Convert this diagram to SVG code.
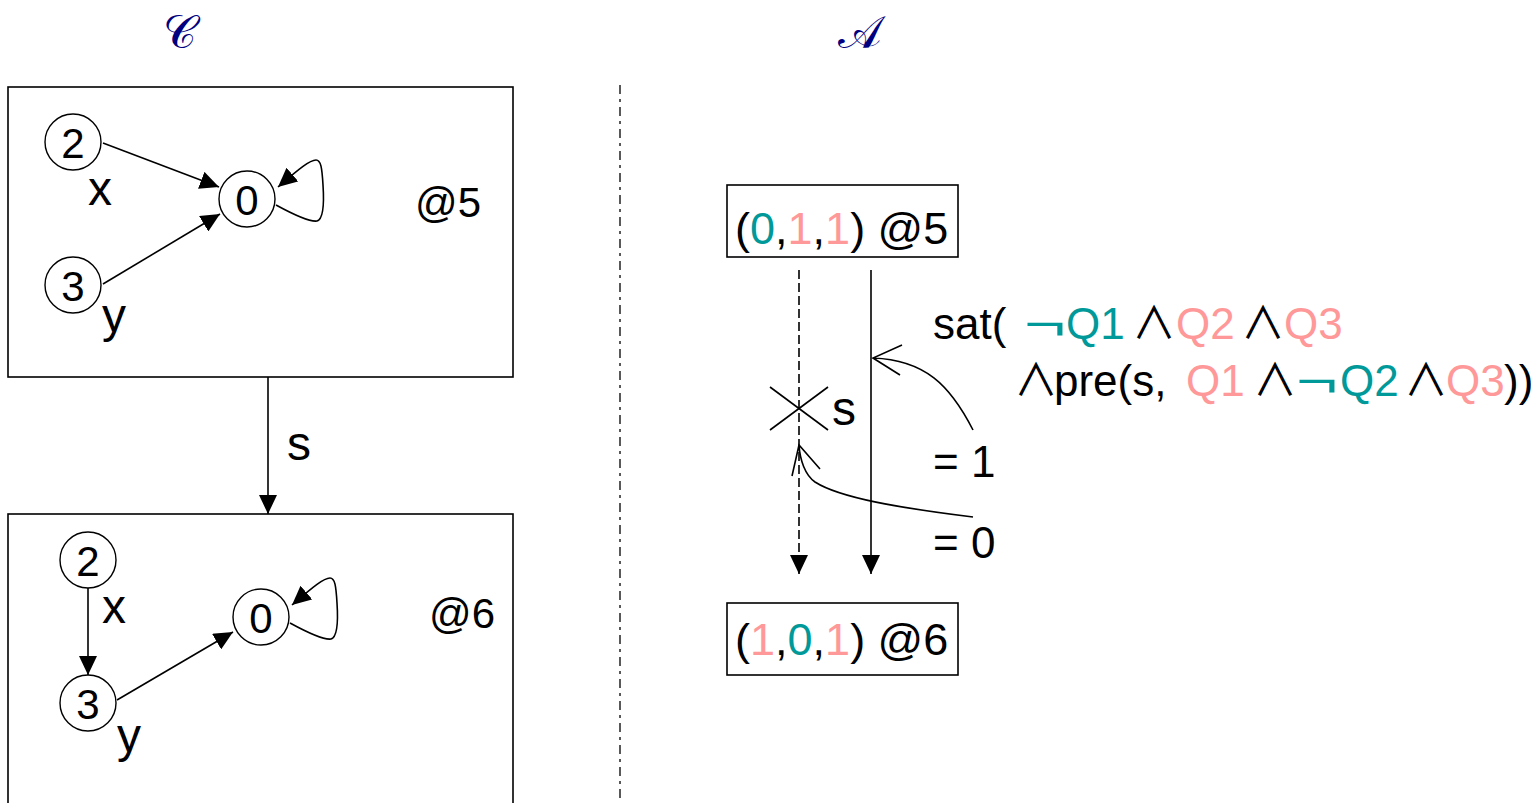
<svg xmlns="http://www.w3.org/2000/svg" width="1538" height="803" viewBox="0 0 1538 803">
<defs>
<style>
.t{font-family:"Liberation Sans",Arial,sans-serif;font-size:42px;fill:#000}
.lb{font-family:"Liberation Sans",Arial,sans-serif;font-size:48px;fill:#000}
.r{font-family:"Liberation Sans",Arial,sans-serif;font-size:45px;fill:#000}
.f{font-family:"Liberation Sans","DejaVu Sans",sans-serif;font-size:44px;fill:#000}
.and{font-family:"Noto Sans CJK SC","DejaVu Sans",sans-serif;font-size:44px}
.title{font-family:"DejaVu Serif","Liberation Serif",serif;font-size:46px;fill:#000080;text-anchor:middle}
.box{fill:#fff;stroke:#000;stroke-width:1.6}
.node{fill:#fff;stroke:#000;stroke-width:1.4}
.ln{fill:none;stroke:#000;stroke-width:1.6}
.teal{fill:#009999}
.pink{fill:#ff9999}
</style>
<marker id="ah" markerUnits="userSpaceOnUse" markerWidth="20" markerHeight="18" refX="19" refY="9" orient="auto">
<path d="M0,0 L19,9 L0,18 z" fill="#000"/>
</marker>
</defs>
<rect width="1538" height="803" fill="#fff"/>
<g id="titles">
<text class="title" x="180" y="48">𝒞</text>
<text class="title" x="860" y="48">𝒜</text>
</g>
<line x1="620" y1="85" x2="620" y2="803" stroke="#000" stroke-width="1.3" stroke-dasharray="9,5,3,5"/>
<g id="box-top">
<rect class="box" x="8" y="87" width="505" height="290"/>
<text class="t" x="448" y="217" text-anchor="middle">@5</text>
</g>
<g id="box-bottom">
<rect class="box" x="8" y="514" width="505" height="320"/>
<text class="t" x="462" y="628" text-anchor="middle">@6</text>
</g>
<g id="top-n2"><circle class="node" cx="73" cy="142" r="28"/><text class="t" x="73" y="158" text-anchor="middle">2</text></g>
<g id="top-n3"><circle class="node" cx="73" cy="285" r="28"/><text class="t" x="73" y="301" text-anchor="middle">3</text></g>
<g id="top-n0"><circle class="node" cx="247" cy="199" r="28"/><text class="t" x="247" y="215" text-anchor="middle">0</text></g>
<g id="bot-n2"><circle class="node" cx="88" cy="560" r="28"/><text class="t" x="88" y="576" text-anchor="middle">2</text></g>
<g id="bot-n3"><circle class="node" cx="88" cy="703" r="28"/><text class="t" x="88" y="719" text-anchor="middle">3</text></g>
<g id="bot-n0"><circle class="node" cx="261" cy="617" r="28"/><text class="t" x="261" y="633" text-anchor="middle">0</text></g>
<g id="state-top">
<rect class="box" x="727" y="185" width="231" height="72"/>
<text class="r" x="735" y="244">(<tspan class="teal">0</tspan>,<tspan class="pink">1</tspan>,<tspan class="pink">1</tspan>) @5</text>
</g>
<g id="state-bottom">
<rect class="box" x="727" y="603" width="231" height="72"/>
<text class="r" x="735" y="655">(<tspan class="pink">1</tspan>,<tspan class="teal">0</tspan>,<tspan class="pink">1</tspan>) @6</text>
</g>
<g id="formula">
<text class="f" y="339"><tspan x="933">sat(</tspan><tspan x="1066" class="teal">Q1</tspan><tspan x="1132" class="and">∧</tspan><tspan x="1176" class="pink">Q2</tspan><tspan x="1241" class="and">∧</tspan><tspan x="1284" class="pink">Q3</tspan></text>
<text class="f teal" x="1024" y="339" textLength="42" lengthAdjust="spacingAndGlyphs">¬</text>
<text class="f" y="396"><tspan x="1014" class="and">∧</tspan><tspan x="1054">pre(s, </tspan><tspan x="1186" class="pink">Q1</tspan><tspan x="1253" class="and">∧</tspan><tspan x="1340" class="teal">Q2</tspan><tspan x="1404" class="and">∧</tspan><tspan x="1446" class="pink">Q3</tspan><tspan x="1504">))</tspan></text>
<text class="f teal" x="1296" y="396" textLength="42" lengthAdjust="spacingAndGlyphs">¬</text>
<text class="f" x="933" y="477">= 1</text>
<text class="f" x="933" y="558">= 0</text>
</g>
<g id="connectors">
<line class="ln" x1="103" y1="143" x2="219" y2="187" marker-end="url(#ah)"/>
<line class="ln" x1="103" y1="284" x2="220" y2="214" marker-end="url(#ah)"/>
<path class="ln" d="M276,205 C298,217 310,222 317,221 C324,219 324,200 323,185 C322,168 321,160 316,160 C310,160 300,168 278,187" marker-end="url(#ah)"/>
<line class="ln" x1="268" y1="377" x2="268" y2="514" marker-end="url(#ah)"/>
<text class="lb" x="287" y="460">s</text>
<line class="ln" x1="88" y1="588" x2="88" y2="675" marker-end="url(#ah)"/>
<line class="ln" x1="117" y1="700" x2="233" y2="632" marker-end="url(#ah)"/>
<path class="ln" d="M290,623 C312,635 324,640 331,639 C338,637 338,618 337,603 C336,586 335,578 330,578 C324,578 314,586 292,605" marker-end="url(#ah)"/>
<text class="lb" x="88" y="205">x</text>
<text class="lb" x="102" y="332">y</text>
<text class="lb" x="102" y="623">x</text>
<text class="lb" x="117" y="752">y</text>
<line class="ln" x1="799" y1="270" x2="799" y2="574" stroke-dasharray="9,4" marker-end="url(#ah)"/>
<line class="ln" x1="871" y1="270" x2="871" y2="574" marker-end="url(#ah)"/>
<line class="ln" x1="770" y1="387" x2="828" y2="430"/>
<line class="ln" x1="770" y1="430" x2="828" y2="387"/>
<text class="lb" x="832" y="425">s</text>
<path class="ln" d="M973,430 C950,385 925,360 873,358 M902,345 L873,358 L900,375"/>
<path class="ln" d="M973,517 C900,508 840,498 815,482 C805,475 800,460 799,445 M792,476 L799,445 L820,469"/>
</g>
</svg>
